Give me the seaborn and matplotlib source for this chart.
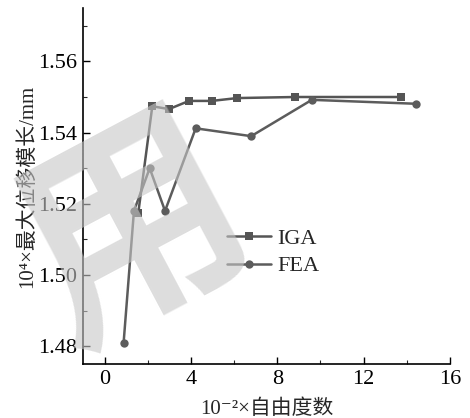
import matplotlib
matplotlib.use("Agg")
import matplotlib.pyplot as plt
from matplotlib.ticker import MultipleLocator, FormatStrFormatter
import seaborn as sns
import pandas as pd

# Degrees of freedom (x 10^-2) and max displacement magnitude (x 10^4 mm)
iga_dof = [1.56, 2.21, 2.98, 3.91, 4.96, 6.14, 8.83, 13.74]
iga_disp = [1.5174, 1.5474, 1.5466, 1.5489, 1.5489, 1.5497, 1.5500, 1.5500]
fea_dof = [0.88, 1.36, 2.09, 2.80, 4.22, 6.79, 9.60, 14.42]
fea_disp = [1.4809, 1.5180, 1.5300, 1.5180, 1.5412, 1.5390, 1.5492, 1.5481]

df = pd.concat([
    pd.DataFrame({"dof": iga_dof, "disp": iga_disp, "method": "IGA"}),
    pd.DataFrame({"dof": fea_dof, "disp": fea_disp, "method": "FEA"}),
])

sns.set_theme(style="ticks")
plt.rcParams["font.family"] = ["Liberation Serif", "DejaVu Serif", "Noto Sans CJK SC"]

fig = plt.figure(figsize=(4.7, 4.18), dpi=100)
ax = fig.add_axes([83 / 470, 54 / 418, (450 - 83) / 470, (364 - 8) / 418])

sns.lineplot(data=df, x="dof", y="disp", hue="method", style="method",
             markers={"IGA": "s", "FEA": "o"}, dashes=False,
             palette={"IGA": "#555555", "FEA": "#5c5c5c"},
             markersize=6, linewidth=1.8, markeredgewidth=0,
             sort=False, ax=ax)

ax.set_xlim(-1, 16)
ax.set_ylim(1.475, 1.575)
ax.xaxis.set_major_locator(MultipleLocator(4))
ax.xaxis.set_minor_locator(MultipleLocator(2))
ax.yaxis.set_major_locator(MultipleLocator(0.02))
ax.yaxis.set_minor_locator(MultipleLocator(0.01))
ax.yaxis.set_major_formatter(FormatStrFormatter("%.2f"))
ax.tick_params(which="major", direction="in", length=5, width=1.0,
               labelsize=16, colors="black", pad=4)
ax.tick_params(which="minor", direction="in", length=3, width=0.8)
for s in ("top", "right"):
    ax.spines[s].set_visible(False)
for s in ("left", "bottom"):
    ax.spines[s].set_linewidth(1.2)
    ax.spines[s].set_color("black")

ax.set_xlabel("10⁻²×自由度数", fontsize=15, labelpad=8)
ax.set_ylabel("10⁴×最大位移模长/mm", fontsize=15, labelpad=1)

leg = ax.legend(loc="center left", bbox_to_anchor=(0.338, 0.313), frameon=False,
                fontsize=16, handlelength=2.0, handletextpad=0.25,
                labelspacing=0.3, title=None)

# semi-transparent stamp laid over the plot
fig.text(0.285, 0.44, "用", fontsize=160, family="Noto Sans CJK SC",
         fontweight="bold", color=(0.78, 0.78, 0.78), alpha=0.6,
         rotation=28, ha="center", va="center", zorder=10)

fig.savefig("out.png", dpi=100)
